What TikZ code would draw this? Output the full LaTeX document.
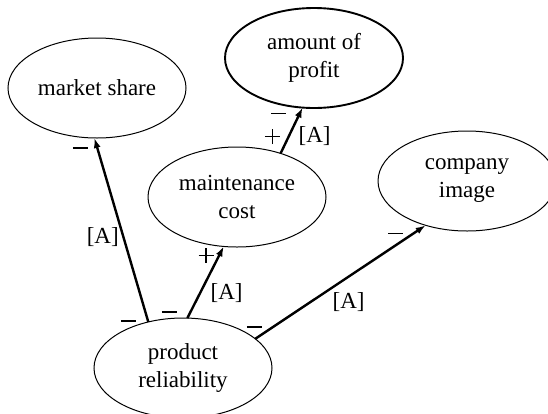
\documentclass[tikz,border=0pt]{standalone}
\usepackage{fontspec}
\setmainfont{Liberation Serif}
\usetikzlibrary{arrows.meta,shapes.geometric}
\newcommand\sgnminus{\rule[5.05pt]{15pt}{1.4pt}}
\newcommand\sgnplus{\rlap{\rule[5.05pt]{15pt}{1.4pt}}\hspace{6.8pt}\rule[-1.75pt]{1.4pt}{15pt}\hspace{6.8pt}}
\begin{document}
\begin{tikzpicture}[x=1pt,y=-1pt,
  every node/.style={font=\fontsize{23}{28}\selectfont},
  concept/.style={ellipse,draw,line width=1pt,minimum width=178pt,minimum height=100pt,
    inner sep=0pt,outer sep=0pt,align=center},
  thickconcept/.style={concept,line width=1.9pt},
  link/.style={line width=2.4pt,-{Latex[length=10pt,width=7pt]}},
  lbl/.style={inner sep=0pt,text height=16.1pt,text depth=4.6pt}]
\useasboundingbox (0,0) rectangle (548,413);
\clip (0,0) rectangle (548,413);
\node[concept] (ms) at (97,88) {market share};
\node[thickconcept] (ap) at (314,58) {amount of\\profit};
\node[concept] (mc) at (237,197) {maintenance\\cost};
\node[concept] (ci) at (467,181) {company\\image};
\node[concept] (pr) at (183,368) {product\\reliability};
\draw[link] (pr.127) -- (ms.267)
  node[lbl,pos=0,xshift=-20pt,yshift=1pt] {\sgnminus}
  node[lbl,pos=0.456,xshift=-21pt] {[A]}
  node[lbl,pos=1,xshift=-14pt,yshift=-10pt] {\sgnminus};
\draw[link] (pr.85) -- (mc.255)
  node[lbl,pos=0,xshift=-18pt,yshift=6pt] {\sgnminus}
  node[lbl,pos=0.338,xshift=27pt] {[A]}
  node[lbl,pos=1,xshift=-21pt,yshift=-9pt] {\sgnplus};
\draw[link] (pr.22.5) -- (ci.227)
  node[lbl,pos=0,xshift=-1pt,yshift=12pt] {\sgnminus}
  node[lbl,pos=0.548,yshift=-26pt] {[A]}
  node[lbl,pos=1,xshift=-30pt,yshift=-8pt] {\sgnminus};
\draw[link] (mc.45) -- (ap.257)
  node[lbl,pos=0.364,xshift=-19.5pt] {\sgnplus}
  node[lbl,pos=0.364,xshift=26pt] {[A]}
  node[lbl,pos=1,xshift=-24pt,yshift=-6pt] {\sgnminus};
\end{tikzpicture}
\end{document}
